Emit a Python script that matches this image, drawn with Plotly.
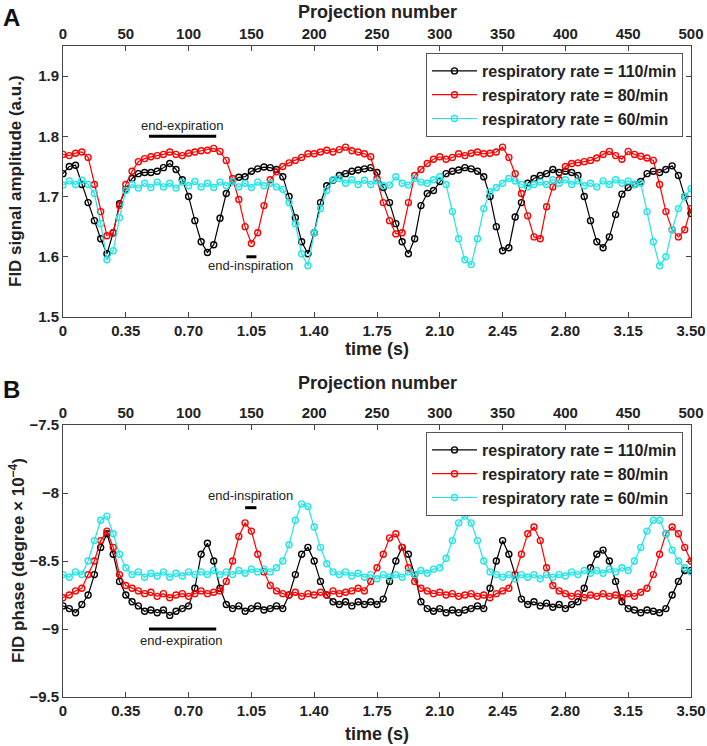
import plotly.graph_objects as go

# ---------------- data ----------------
projection = list(range(0, 501, 5))
proj_ticks = list(range(0, 501, 50))
time_tick_labels = ["0", "0.35", "0.70", "1.05", "1.40", "1.75", "2.10", "2.45", "2.80", "3.15", "3.50"]
series_names = ["respiratory rate = 110/min", "respiratory rate = 80/min", "respiratory rate = 60/min"]
series_colors = ["#000000", "#ff0000", "#22e5e5"]

amp_110 = [1.738, 1.750, 1.752, 1.72, 1.69, 1.66, 1.63, 1.605, 1.64, 1.688, 1.712, 1.73, 1.738, 1.74, 1.74, 1.742,
           1.748, 1.755, 1.745, 1.728, 1.70, 1.66, 1.625, 1.607, 1.62, 1.664, 1.705, 1.725, 1.732, 1.733, 1.742,
           1.746, 1.749, 1.748, 1.745, 1.733, 1.70, 1.665, 1.625, 1.605, 1.64, 1.69, 1.718, 1.727, 1.735, 1.738,
           1.742, 1.744, 1.746, 1.748, 1.74, 1.715, 1.69, 1.655, 1.625, 1.605, 1.63, 1.685, 1.705, 1.71, 1.725,
           1.738, 1.742, 1.744, 1.748, 1.746, 1.742, 1.733, 1.70, 1.65, 1.61, 1.615, 1.666, 1.69, 1.722, 1.73,
           1.735, 1.738, 1.745, 1.74, 1.742, 1.74, 1.735, 1.70, 1.66, 1.625, 1.615, 1.633, 1.67, 1.704, 1.715,
           1.72, 1.725, 1.738, 1.742, 1.74, 1.745, 1.751, 1.735, 1.70, 1.672]
amp_80 = [1.770, 1.768, 1.772, 1.774, 1.765, 1.72, 1.675, 1.635, 1.64, 1.685, 1.72, 1.742, 1.758, 1.763, 1.766,
          1.768, 1.770, 1.774, 1.770, 1.768, 1.772, 1.774, 1.776, 1.777, 1.780, 1.775, 1.76, 1.73, 1.695, 1.65,
          1.622, 1.64, 1.685, 1.728, 1.741, 1.75, 1.756, 1.76, 1.765, 1.771, 1.771, 1.774, 1.777, 1.774, 1.778,
          1.782, 1.776, 1.774, 1.771, 1.766, 1.73, 1.69, 1.66, 1.638, 1.64, 1.69, 1.735, 1.745, 1.755, 1.762,
          1.766, 1.762, 1.765, 1.771, 1.768, 1.772, 1.774, 1.771, 1.772, 1.774, 1.782, 1.765, 1.738, 1.705,
          1.668, 1.633, 1.63, 1.683, 1.716, 1.728, 1.75, 1.755, 1.756, 1.758, 1.760, 1.764, 1.77, 1.775, 1.768,
          1.762, 1.775, 1.77, 1.767, 1.764, 1.76, 1.72, 1.675, 1.645, 1.633, 1.645, 1.68]
amp_60 = [1.719, 1.726, 1.72, 1.727, 1.72, 1.705, 1.655, 1.595, 1.61, 1.665, 1.71, 1.72, 1.714, 1.722, 1.715,
          1.724, 1.716, 1.722, 1.714, 1.724, 1.718, 1.725, 1.716, 1.722, 1.715, 1.724, 1.718, 1.725, 1.716, 1.722,
          1.715, 1.724, 1.718, 1.722, 1.716, 1.712, 1.69, 1.655, 1.605, 1.585, 1.64, 1.68, 1.71, 1.728, 1.73,
          1.722, 1.728, 1.72, 1.727, 1.72, 1.726, 1.718, 1.719, 1.733, 1.722, 1.719, 1.73, 1.724, 1.722, 1.728,
          1.733, 1.72, 1.675, 1.63, 1.595, 1.587, 1.63, 1.68, 1.708, 1.715, 1.722, 1.73, 1.726, 1.72, 1.716,
          1.72, 1.724, 1.72, 1.728, 1.722, 1.728, 1.72, 1.726, 1.718, 1.722, 1.716, 1.726, 1.72, 1.728, 1.722,
          1.726, 1.72, 1.722, 1.675, 1.625, 1.585, 1.60, 1.645, 1.68, 1.70, 1.713]

phase_110 = [-8.83, -8.85, -8.88, -8.82, -8.75, -8.6, -8.4, -8.3, -8.45, -8.65, -8.75, -8.8, -8.83, -8.87, -8.86,
             -8.88, -8.86, -8.9, -8.87, -8.85, -8.83, -8.7, -8.45, -8.37, -8.5, -8.7, -8.82, -8.85, -8.83, -8.87,
             -8.85, -8.83, -8.86, -8.85, -8.83, -8.85, -8.75, -8.6, -8.45, -8.4, -8.5, -8.65, -8.75, -8.8, -8.82,
             -8.8, -8.83, -8.8, -8.82, -8.8, -8.82, -8.78, -8.65, -8.5, -8.4, -8.45, -8.6, -8.8, -8.85, -8.87,
             -8.85, -8.88, -8.86, -8.88, -8.86, -8.85, -8.83, -8.85, -8.7, -8.5, -8.35, -8.45, -8.6, -8.78, -8.82,
             -8.8, -8.83, -8.81, -8.84, -8.82, -8.85, -8.82, -8.8, -8.7, -8.55, -8.45, -8.42, -8.5, -8.65, -8.8,
             -8.85, -8.86, -8.88, -8.86, -8.87, -8.88, -8.85, -8.75, -8.65, -8.57, -8.57]
phase_80 = [-8.77, -8.75, -8.72, -8.7, -8.6, -8.5, -8.35, -8.28, -8.4, -8.6, -8.68, -8.7, -8.72, -8.74, -8.73,
            -8.76, -8.74, -8.77, -8.75, -8.74, -8.76, -8.74, -8.72, -8.74, -8.73, -8.72, -8.65, -8.5, -8.32, -8.22,
            -8.28, -8.45, -8.58, -8.68, -8.72, -8.74, -8.75, -8.73, -8.76, -8.74, -8.75, -8.73, -8.75, -8.72, -8.74,
            -8.73, -8.72, -8.7, -8.72, -8.65, -8.55, -8.45, -8.33, -8.3, -8.4, -8.55, -8.65, -8.7, -8.72, -8.74,
            -8.73, -8.75, -8.74, -8.76, -8.75, -8.74, -8.76, -8.75, -8.77, -8.74, -8.72, -8.7, -8.6, -8.45, -8.3,
            -8.25, -8.35, -8.55, -8.68, -8.72, -8.74, -8.76, -8.74, -8.77, -8.75, -8.76, -8.74, -8.76, -8.75, -8.77,
            -8.74, -8.76, -8.73, -8.7, -8.6, -8.45, -8.3, -8.25, -8.3, -8.4, -8.5]
phase_60 = [-8.6, -8.62, -8.58, -8.6, -8.5, -8.35, -8.2, -8.17, -8.3, -8.45, -8.55, -8.6, -8.58, -8.62, -8.59,
            -8.61, -8.58, -8.62, -8.59, -8.61, -8.58, -8.6, -8.58, -8.6, -8.57, -8.6, -8.58, -8.6, -8.57, -8.59,
            -8.56, -8.58, -8.56, -8.58, -8.55, -8.5, -8.38, -8.2, -8.08, -8.1, -8.25, -8.4, -8.52, -8.58, -8.6,
            -8.58, -8.61, -8.59, -8.62, -8.6, -8.63, -8.6, -8.62, -8.6, -8.62, -8.58, -8.6, -8.57, -8.59, -8.56,
            -8.55, -8.48, -8.35, -8.22, -8.17, -8.22, -8.35, -8.5, -8.58, -8.6, -8.62, -8.6, -8.63, -8.6, -8.62,
            -8.6, -8.63, -8.6, -8.62, -8.6, -8.61, -8.58, -8.6, -8.57, -8.59, -8.57, -8.59, -8.56, -8.58, -8.55,
            -8.57, -8.5, -8.4, -8.28, -8.2, -8.2, -8.3, -8.42, -8.5, -8.55, -8.58]

amp_ticks = [1.5, 1.6, 1.7, 1.8, 1.9]
amp_tick_labels = ["1.5", "1.6", "1.7", "1.8", "1.9"]
phase_ticks = [-9.5, -9.0, -8.5, -8.0, -7.5]
phase_tick_labels = ["\u22129.5", "\u22129", "\u22128.5", "\u22128", "\u22127.5"]

# ---------------- figure ----------------
FONT = "Liberation Sans, Arial, sans-serif"
W, H = 707, 746
ML, MR, MT, MB = 63, 16, 46, 49
PW, PH = W - ML - MR, H - MT - MB


def px_x(px):
    return (px - ML) / PW


def px_y(py):
    return (H - MB - py) / PH


fig = go.Figure()

for ys, yax, leg in [((amp_110, amp_80, amp_60), "y", "legend"),
                     ((phase_110, phase_80, phase_60), "y2", "legend2")]:
    xax = "x" if yax == "y" else "x3"
    for name, vals, col in zip(series_names, ys, series_colors):
        fig.add_trace(go.Scatter(
            x=projection, y=vals, name=name, xaxis=xax, yaxis=yax, legend=leg,
            mode="lines+markers",
            line=dict(color=col, width=1.2),
            marker=dict(symbol="circle-open", size=6, color=col, line=dict(width=1.4, color=col)),
        ))

# invisible traces so top axes are drawn
fig.add_trace(go.Scatter(x=[0, 500], y=[1.7, 1.7], xaxis="x2", yaxis="y", mode="lines",
                         line=dict(width=0), showlegend=False, hoverinfo="skip"))
fig.add_trace(go.Scatter(x=[0, 500], y=[-8.5, -8.5], xaxis="x4", yaxis="y2", mode="lines",
                         line=dict(width=0), showlegend=False, hoverinfo="skip"))

tickfont = dict(family=FONT, size=15, color="#222222", weight="bold")
axis_common = dict(showline=True, linecolor="#444444", linewidth=1, ticks="inside", ticklen=5,
                   tickcolor="#444444", showgrid=False, zeroline=False, tickfont=tickfont,
                   automargin=False)

dom_a = [px_y(317), 1.0]
dom_b = [0.0, px_y(425)]

legend_common = dict(xanchor="right", yanchor="top", bgcolor="white", bordercolor="#555555",
                     borderwidth=1, font=dict(family=FONT, size=16, color="#222222", weight="bold"),
                     tracegroupgap=0, itemwidth=45)

fig.update_layout(
    width=W, height=H,
    margin=dict(l=ML, r=MR, t=MT, b=MB, autoexpand=False),
    paper_bgcolor="white", plot_bgcolor="white",
    font=dict(family=FONT, color="#222222"),
    xaxis=dict(axis_common, range=[0, 500], tickvals=proj_ticks, ticktext=time_tick_labels,
               anchor="y", domain=[0, 1]),
    xaxis2=dict(axis_common, range=[0, 500], tickvals=proj_ticks, side="top", overlaying="x",
                anchor="y"),
    yaxis=dict(axis_common, range=[1.5, 1.95], tickvals=amp_ticks, ticktext=amp_tick_labels,
               domain=dom_a, anchor="x", mirror="ticks"),
    xaxis3=dict(axis_common, range=[0, 500], tickvals=proj_ticks, ticktext=time_tick_labels,
                anchor="y2", domain=[0, 1]),
    xaxis4=dict(axis_common, range=[0, 500], tickvals=proj_ticks, side="top", overlaying="x3",
                anchor="y2"),
    yaxis2=dict(axis_common, range=[-9.5, -7.5], tickvals=phase_ticks, ticktext=phase_tick_labels,
                domain=dom_b, anchor="x3", mirror="ticks"),
    legend=dict(legend_common, x=px_x(683), y=px_y(53)),
    legend2=dict(legend_common, x=px_x(683), y=px_y(432)),
    showlegend=True,
)

annots = []
title_font = dict(family=FONT, size=18, color="#222222", weight="bold")
ytitle_font = dict(family=FONT, size=17, color="#222222", weight="bold")
letter_font = dict(family=FONT, size=24, color="#111111", weight="bold")


def paper_text(text, px, py, font, angle=0):
    annots.append(dict(text=text, x=px_x(px), y=px_y(py), xref="paper", yref="paper",
                       xanchor="center", yanchor="middle", showarrow=False, textangle=angle, font=font))


paper_text("A", 11, 17, letter_font)
paper_text("B", 11, 389, letter_font)
paper_text("Projection number", 377, 12, title_font)
paper_text("Projection number", 377, 383, title_font)
paper_text("time (s)", 377, 349, title_font)
paper_text("time (s)", 377, 734, title_font)
paper_text("FID signal amplitude (a.u.)", 15, 181, ytitle_font, -90)
paper_text("FID phase (degree \u00d7 10<sup>\u22124</sup>)", 17, 561, ytitle_font, -90)

note_font = dict(family=FONT, size=13, color="#222222")
for text, x, y, xr, yr in [("end-expiration", 95, 1.818, "x", "y"),
                           ("end-inspiration", 149, 1.585, "x", "y"),
                           ("end-expiration", 94, -9.085, "x3", "y2"),
                           ("end-inspiration", 149, -8.02, "x3", "y2")]:
    annots.append(dict(text=text, x=x, y=y, xref=xr, yref=yr, xanchor="center", yanchor="middle",
                       showarrow=False, font=note_font))
fig.update_layout(annotations=annots)

shapes = [
    dict(type="line", x0=68.5, x1=122, y0=1.8, y1=1.8, xref="x", yref="y", line=dict(color="black", width=3)),
    dict(type="line", x0=146, x1=154, y0=1.6, y1=1.6, xref="x", yref="y", line=dict(color="black", width=3)),
    dict(type="line", x0=68.5, x1=122, y0=-9.0, y1=-9.0, xref="x3", yref="y2", line=dict(color="black", width=3)),
    dict(type="line", x0=145, x1=154, y0=-8.108, y1=-8.108, xref="x3", yref="y2", line=dict(color="black", width=3)),
]
fig.update_layout(shapes=shapes)

# remove the browser's default 8px body margin so the 707x746 figure fills the window exactly
fig.write_html("out.html", config=dict(displayModeBar=False),
               post_script="document.body.style.margin='0px';")
